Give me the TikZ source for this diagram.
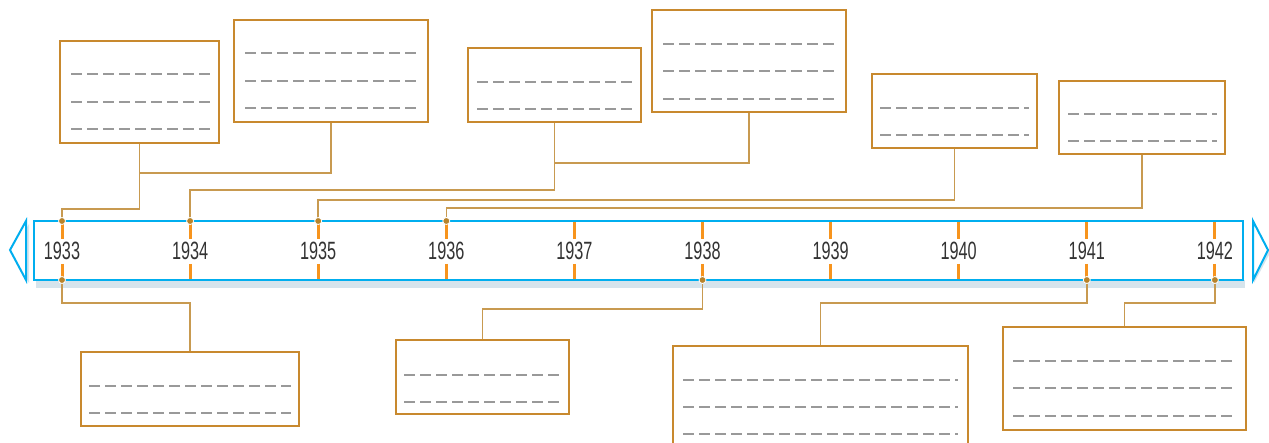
\documentclass[tikz,border=0pt]{standalone}
\usepackage{fontspec}
\newfontfamily\yearfont[FakeStretch=0.65]{Liberation Sans}
\definecolor{boxc}{HTML}{C8892E}
\definecolor{connc}{HTML}{C89A50}
\definecolor{dotc}{HTML}{B8842C}
\definecolor{bandc}{HTML}{00AEEF}
\definecolor{tickc}{HTML}{F7941D}
\definecolor{shadc}{HTML}{D6E4EC}
\definecolor{dashc}{HTML}{999999}
\definecolor{yearc}{HTML}{333333}
\tikzset{
  box/.style={draw=boxc, line width=1.5pt, fill=white, inner sep=0pt},
  conn/.style={draw=connc, line width=1.5pt},
  dl/.style={draw=dashc, line width=2pt, dash pattern=on 11pt off 5pt},
  tk/.style={draw=tickc, line width=3pt},
  yr/.style={text=yearc, font=\yearfont\fontsize{25}{25}\selectfont, anchor=base, inner sep=0pt},
  dotm/.style={circle, fill=dotc, draw=white, line width=0.8pt, minimum size=7pt, inner sep=0pt},
}
\begin{document}
\begin{tikzpicture}[x=1pt,y=-1pt]
\clip (0,0) rectangle (1269,443);
\fill[white] (0,0) rectangle (1269,443);
% band shadow
\fill[shadc] (36,280) rectangle (1245,288);
\fill[shadc] (29,224) -- (12,253) -- (29,283) -- cycle;
\fill[shadc] (1254,224) -- (1270,253) -- (1254,283) -- cycle;
% band
\draw[bandc, line width=2pt, fill=white] (34,221) rectangle (1243,280);
\draw[bandc, line width=2pt, fill=white, line join=miter] (26,221) -- (10,250) -- (26,280) -- cycle;
\draw[bandc, line width=2pt, fill=white, line join=miter] (1253,221) -- (1268,250) -- (1253,280) -- cycle;
% ticks and years
\foreach \i/\yy in {0/1933,1/1934,2/1935,3/1936,4/1937,5/1938,6/1939,7/1940,8/1941,9/1942}{
  \pgfmathsetmacro{\xx}{62+128.1*\i}
  \draw[tk] (\xx,222) -- (\xx,239);
  \draw[tk] (\xx,264) -- (\xx,279);
  \node[yr] (y\yy) at (\xx,260) {\yy};
  \coordinate (t\yy) at (\xx,221);
  \coordinate (b\yy) at (\xx,280);
}
% level coordinates
\coordinate (lA) at (0,209);
\coordinate (lB) at (0,173);
\coordinate (lC) at (0,190);
\coordinate (lD) at (0,163);
\coordinate (lE) at (0,200);
\coordinate (lF) at (0,208);
\coordinate (lG) at (0,303);
\coordinate (lH) at (0,309);
\coordinate (lI) at (0,303);
\coordinate (lJ) at (0,303);
% boxes
\node[box, minimum width=159pt, minimum height=102pt] (A) at (139.5,92) {};
\node[box, minimum width=194pt, minimum height=102pt] (B) at (331,71) {};
\node[box, minimum width=173pt, minimum height=74pt] (C) at (554.5,85) {};
\node[box, minimum width=194pt, minimum height=102pt] (D) at (749,61) {};
\node[box, minimum width=165pt, minimum height=74pt] (E) at (954.5,111) {};
\node[box, minimum width=166pt, minimum height=73pt] (F) at (1142,117.5) {};
\node[box, minimum width=218pt, minimum height=74pt] (G) at (190,389) {};
\node[box, minimum width=173pt, minimum height=74pt] (H) at (482.5,377) {};
\node[box, minimum width=295pt, minimum height=102pt] (I) at (820.5,397) {};
\node[box, minimum width=243pt, minimum height=103pt] (J) at (1124.5,378.5) {};
% dashed text lines
\foreach \y in {74,102,129} \draw[dl] (71,\y) -- (210,\y);
\foreach \y in {53,81,108} \draw[dl] (245,\y) -- (417,\y);
\foreach \y in {82,109} \draw[dl] (477,\y) -- (632,\y);
\foreach \y in {44,71,99} \draw[dl] (663,\y) -- (835,\y);
\foreach \y in {108,135} \draw[dl] (880,\y) -- (1029,\y);
\foreach \y in {114,141} \draw[dl] (1068,\y) -- (1217,\y);
\foreach \y in {386,413} \draw[dl] (89,\y) -- (291,\y);
\foreach \y in {375,402} \draw[dl] (404,\y) -- (559,\y);
\foreach \y in {380,407,434} \draw[dl] (683,\y) -- (958,\y);
\foreach \y in {361,388,416} \draw[dl] (1013,\y) -- (1232,\y);
% connectors
\draw[conn] (A.south) |- (t1933 |- lA) -- (t1933);
\draw[conn] (B.south) |- (A.south |- lB);
\draw[conn] (C.south) |- (t1934 |- lC) -- (t1934);
\draw[conn] (D.south) |- (C.south |- lD);
\draw[conn] (E.south) |- (t1935 |- lE) -- (t1935);
\draw[conn] (F.south) |- (t1936 |- lF) -- (t1936);
\draw[conn] (b1933) |- (G.north |- lG) -- (G.north);
\draw[conn] (b1938) |- (H.north |- lH) -- (H.north);
\draw[conn] (b1941) |- (I.north |- lI) -- (I.north);
\draw[conn] (b1942) |- (J.north |- lJ) -- (J.north);
% dots
\foreach \c in {t1933,t1934,t1935,t1936,b1933,b1938,b1941,b1942}
  \node[dotm] (d\c) at (\c) {};
\end{tikzpicture}
\end{document}
